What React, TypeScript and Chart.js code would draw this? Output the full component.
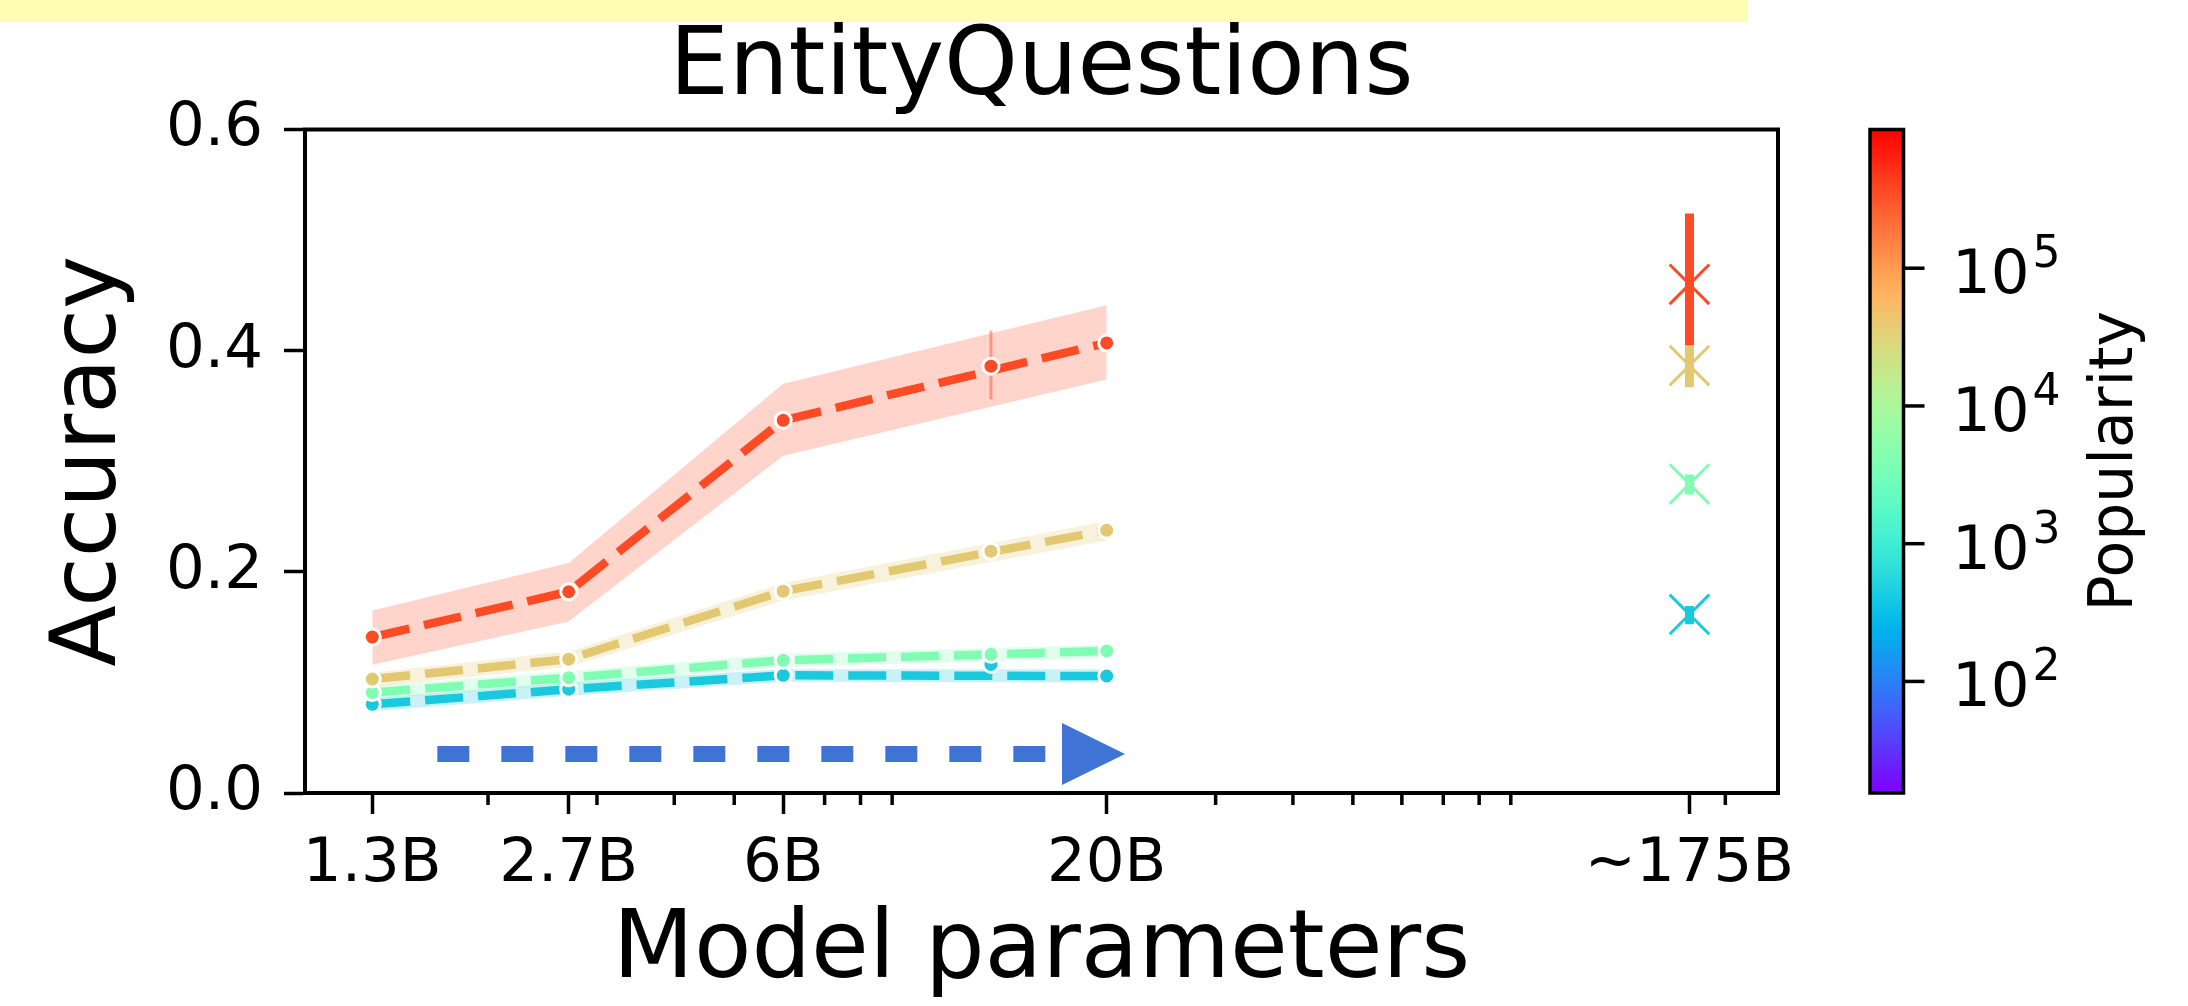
import React, { useEffect, useRef } from 'react';
import { Chart, registerables } from 'chart.js';

Chart.register(...registerables);

// ---------------- data ----------------
const MODEL_SIZES = [1.3, 2.7, 6, 20];
const X_TICK_VALUES = [1.3, 2.7, 6, 20, 175];
const X_TICK_LABELS = ['1.3B', '2.7B', '6B', '20B', '~175B'];
const X_MINOR_TICKS = [2, 3, 4, 5, 7, 8, 9, 30, 40, 50, 60, 70, 80, 90, 200];
const Y_TICKS = [0, 0.2, 0.4, 0.6];

// popularity bins, highest first
const HIGH_MEAN = [0.141, 0.182, 0.337, 0.407];
const HIGH_LOW = [0.116, 0.155, 0.305, 0.374];
const HIGH_UP = [0.165, 0.208, 0.370, 0.441];

const UPPER_MID_MEAN = [0.103, 0.121, 0.1825, 0.2376];
const UPPER_MID_LOW = [0.096, 0.114, 0.174, 0.228];
const UPPER_MID_UP = [0.109, 0.128, 0.190, 0.246];

const LOWER_MID_MEAN = [0.0908, 0.1043, 0.120, 0.1284];
const LOWER_MID_LOW = [0.085, 0.098, 0.114, 0.122];
const LOWER_MID_UP = [0.097, 0.110, 0.126, 0.134];

const LOW_MEAN = [0.0802, 0.0938, 0.1064, 0.1058];
const LOW_LOW = [0.074, 0.088, 0.1005, 0.100];
const LOW_UP = [0.086, 0.100, 0.112, 0.112];

// extra 13B model (one value per bin, highest first)
const EXTRA_SIZE = 13;
const EXTRA_MEAN = [0.386, 0.2186, 0.1254, 0.1163];
const EXTRA_LOW = [0.356, 0.213, 0.121, 0.1058];
const EXTRA_UP = [0.418, 0.224, 0.130, 0.127];

// ~175B model
const GPT3_SIZE = 175;
const GPT3_MEAN = [0.46, 0.3865, 0.2794, 0.1615];
const GPT3_LOW = [0.405, 0.367, 0.270, 0.1525];
const GPT3_UP = [0.524, 0.405, 0.288, 0.169];

// colourbar (log10 popularity)
const CB_TICK_EXPONENTS = [2, 3, 4, 5];
const CB_RANGE_EXP = [1.19, 6.007];

// annotation arrow (model size, accuracy)
const ARROW_FROM_X = 1.656;
const ARROW_TIP_X = 21.41;
const ARROW_Y = 0.0353;

const TITLE = 'EntityQuestions';
const X_TITLE = 'Model parameters';
const Y_TITLE = 'Accuracy';
const CB_TITLE = 'Popularity';

// ---------------- styles ----------------
const W = 2188;
const H = 1006;
const FONT = "'DejaVu Sans', sans-serif";
const SERIES_COLORS = ['#FF4A26', '#E2C871', '#80FDB3', '#1BC9DF'];
const ARROW_COLOR = '#3F74D4';
const HIGHLIGHT_COLOR = '#FFFDB1';

function hexToRgba(hex: string, a: number) {
  const n = parseInt(hex.slice(1), 16);
  return `rgba(${(n >> 16) & 255},${(n >> 8) & 255},${n & 255},${a})`;
}

function rainbow(t: number) {
  const c = (v: number) => Math.round(Math.max(0, Math.min(1, v)) * 255);
  const r = Math.abs(2 * t - 0.5);
  const g = Math.sin(Math.PI * t);
  const b = Math.cos((Math.PI * t) / 2);
  return `rgb(${c(r)},${c(g)},${c(b)})`;
}

const SERIES = [
  { mean: HIGH_MEAN, low: HIGH_LOW, up: HIGH_UP },
  { mean: UPPER_MID_MEAN, low: UPPER_MID_LOW, up: UPPER_MID_UP },
  { mean: LOWER_MID_MEAN, low: LOWER_MID_LOW, up: LOWER_MID_UP },
  { mean: LOW_MEAN, low: LOW_LOW, up: LOW_UP },
];

function buildDatasets() {
  const ds: any[] = [];
  SERIES.forEach((s, i) => {
    const color = SERIES_COLORS[i];
    ds.push({
      data: MODEL_SIZES.map((x, j) => ({ x, y: s.low[j] })),
      borderColor: 'rgba(0,0,0,0)',
      backgroundColor: 'rgba(0,0,0,0)',
      borderWidth: 0,
      pointRadius: 0,
      fill: false,
      order: 40 + i,
    });
    ds.push({
      data: MODEL_SIZES.map((x, j) => ({ x, y: s.up[j] })),
      borderColor: 'rgba(0,0,0,0)',
      backgroundColor: hexToRgba(color, 0.24),
      borderWidth: 0,
      pointRadius: 0,
      fill: '-1',
      order: 40 + i,
    });
  });
  SERIES.forEach((s, i) => {
    const color = SERIES_COLORS[i];
    ds.push({
      data: MODEL_SIZES.map((x, j) => ({ x, y: s.mean[j] })),
      borderColor: color,
      backgroundColor: color,
      borderWidth: 8.5,
      borderDash: [38, 15],
      pointRadius: 8,
      pointBorderWidth: 3,
      pointBorderColor: '#ffffff',
      pointBackgroundColor: color,
      fill: false,
      order: 20 + i,
    });
    ds.push({
      data: [
        { x: EXTRA_SIZE, y: EXTRA_LOW[i] },
        { x: EXTRA_SIZE, y: EXTRA_UP[i] },
      ],
      borderColor: hexToRgba(color, 0.45),
      borderWidth: 3,
      pointRadius: 0,
      fill: false,
      order: 15 + i,
    });
    ds.push({
      data: [{ x: EXTRA_SIZE, y: EXTRA_MEAN[i] }],
      showLine: false,
      pointRadius: 8,
      pointBorderWidth: 3,
      pointBorderColor: '#ffffff',
      pointBackgroundColor: color,
      borderColor: color,
      order: 10 + i,
    });
    ds.push({
      data: [
        { x: GPT3_SIZE, y: GPT3_LOW[i] },
        { x: GPT3_SIZE, y: GPT3_UP[i] },
      ],
      borderColor: color,
      borderWidth: 9,
      pointRadius: 0,
      fill: false,
      order: 5 + i,
    });
    ds.push({
      data: [{ x: GPT3_SIZE, y: GPT3_MEAN[i] }],
      showLine: false,
      pointStyle: 'crossRot',
      pointRadius: 28,
      pointBorderWidth: 3,
      pointBorderColor: color,
      pointBackgroundColor: color,
      borderColor: color,
      order: 1 + i,
    });
  });
  return ds;
}

const decorPlugin = {
  id: 'decor',
  beforeDraw(chart: any) {
    const { ctx } = chart;
    ctx.save();
    ctx.fillStyle = '#ffffff';
    ctx.fillRect(0, 0, chart.width, chart.height);
    ctx.fillStyle = HIGHLIGHT_COLOR;
    ctx.fillRect(0, 0, 1748, 22);
    ctx.restore();
  },
  afterDraw(chart: any) {
    const { ctx, chartArea: a, scales } = chart;
    const xs = scales.x;
    const ys = scales.y;
    ctx.save();

    // top / right frame
    ctx.strokeStyle = '#000';
    ctx.lineWidth = 4;
    ctx.lineJoin = 'miter';
    ctx.beginPath();
    ctx.moveTo(a.left - 2, a.top);
    ctx.lineTo(a.right, a.top);
    ctx.lineTo(a.right, a.bottom + 2);
    ctx.stroke();

    // minor ticks
    ctx.lineWidth = 3.5;
    ctx.beginPath();
    for (const v of X_MINOR_TICKS) {
      const px = xs.getPixelForValue(v);
      ctx.moveTo(px, a.bottom);
      ctx.lineTo(px, a.bottom + 12);
    }
    ctx.stroke();

    // arrow
    const x0 = xs.getPixelForValue(ARROW_FROM_X);
    const x1 = xs.getPixelForValue(ARROW_TIP_X);
    const ay = ys.getPixelForValue(ARROW_Y);
    const headLen = 63;
    const headHalf = 31;
    ctx.strokeStyle = ARROW_COLOR;
    ctx.fillStyle = ARROW_COLOR;
    ctx.lineWidth = 16;
    ctx.lineCap = 'butt';
    ctx.setLineDash([32, 32]);
    ctx.beginPath();
    ctx.moveTo(x0, ay);
    ctx.lineTo(x1 - headLen, ay);
    ctx.stroke();
    ctx.setLineDash([]);
    ctx.beginPath();
    ctx.moveTo(x1 - headLen, ay - headHalf);
    ctx.lineTo(x1, ay);
    ctx.lineTo(x1 - headLen, ay + headHalf);
    ctx.closePath();
    ctx.fill();

    // title
    ctx.fillStyle = '#000';
    ctx.font = `94px ${FONT}`;
    ctx.textAlign = 'center';
    ctx.textBaseline = 'alphabetic';
    ctx.fillText(TITLE, (a.left + a.right) / 2, 93.5);

    // colourbar
    const cbL = 1870;
    const cbR = 1903.5;
    const cbT = a.top;
    const cbB = a.bottom;
    const grad = ctx.createLinearGradient(0, cbB, 0, cbT);
    for (let k = 0; k <= 40; k++) {
      grad.addColorStop(k / 40, rainbow(k / 40));
    }
    ctx.fillStyle = grad;
    ctx.fillRect(cbL, cbT, cbR - cbL, cbB - cbT);
    ctx.strokeStyle = '#000';
    ctx.lineWidth = 3.5;
    ctx.strokeRect(cbL, cbT, cbR - cbL, cbB - cbT);

    const [eMin, eMax] = CB_RANGE_EXP;
    ctx.fillStyle = '#000';
    ctx.textAlign = 'left';
    ctx.textBaseline = 'alphabetic';
    for (const e of CB_TICK_EXPONENTS) {
      const y = cbB - ((e - eMin) / (eMax - eMin)) * (cbB - cbT);
      ctx.beginPath();
      ctx.moveTo(cbR, y);
      ctx.lineTo(cbR + 21, y);
      ctx.stroke();
      ctx.font = `61px ${FONT}`;
      ctx.fillText('10', 1952, y + 25);
      const w10 = ctx.measureText('10').width;
      ctx.font = `44px ${FONT}`;
      ctx.fillText(String(e), 1952 + w10 + 3, y - 1);
    }

    ctx.save();
    ctx.translate(2132, (cbT + cbB) / 2);
    ctx.rotate(-Math.PI / 2);
    ctx.font = `60px ${FONT}`;
    ctx.textAlign = 'center';
    ctx.textBaseline = 'alphabetic';
    ctx.fillText(CB_TITLE, 0, 0);
    ctx.restore();

    ctx.restore();
  },
};

export default function App() {
  const ref = useRef<HTMLCanvasElement | null>(null);

  useEffect(() => {
    if (!ref.current) return;
    const chart = new Chart(ref.current, {
      type: 'line',
      data: { datasets: buildDatasets() },
      options: {
        animation: false,
        responsive: false,
        devicePixelRatio: 1,
        events: [],
        layout: { padding: { left: 0, right: 410, top: 129.5, bottom: 0 } },
        plugins: {
          legend: { display: false },
          tooltip: { enabled: false },
          title: { display: false },
        },
        scales: {
          x: {
            type: 'logarithmic',
            min: 1.012,
            max: 243.3,
            bounds: 'data',
            afterBuildTicks: (s: any) => {
              s.ticks = X_TICK_VALUES.map((v) => ({ value: v }));
            },
            afterFit: (s: any) => {
              s.height = 213;
            },
            ticks: {
              autoSkip: false,
              maxRotation: 0,
              minRotation: 0,
              padding: 21,
              color: '#000',
              font: { family: FONT, size: 61, lineHeight: 1 },
              callback: (_v: any, i: number) => X_TICK_LABELS[i],
            },
            grid: {
              drawOnChartArea: false,
              drawTicks: true,
              tickLength: 21,
              tickWidth: 3.5,
              tickColor: '#000',
            },
            border: { display: true, color: '#000', width: 4 },
            title: {
              display: true,
              text: X_TITLE,
              color: '#000',
              font: { family: FONT, size: 94, lineHeight: 1 },
              padding: { top: 0, bottom: 6 },
            },
          },
          y: {
            type: 'linear',
            min: 0,
            max: 0.6,
            afterBuildTicks: (s: any) => {
              s.ticks = Y_TICKS.map((v) => ({ value: v }));
            },
            afterFit: (s: any) => {
              s.width = 305;
            },
            ticks: {
              padding: 21,
              color: '#000',
              font: { family: FONT, size: 61, lineHeight: 1 },
              callback: (v: any) => Number(v).toFixed(1),
            },
            grid: {
              drawOnChartArea: false,
              drawTicks: true,
              tickLength: 21,
              tickWidth: 3.5,
              tickColor: '#000',
            },
            border: { display: true, color: '#000', width: 4 },
            title: {
              display: true,
              text: Y_TITLE,
              color: '#000',
              font: { family: FONT, size: 90, lineHeight: 1 },
              padding: { top: 47, bottom: 0 },
            },
          },
        },
      },
      plugins: [decorPlugin],
    } as any);
    return () => chart.destroy();
  }, []);

  return (
    <div style={{ position: 'fixed', left: 0, top: 0, width: W, height: H, background: '#fff' }}>
      <canvas ref={ref} width={W} height={H} style={{ display: 'block', width: W, height: H }} />
    </div>
  );
}
